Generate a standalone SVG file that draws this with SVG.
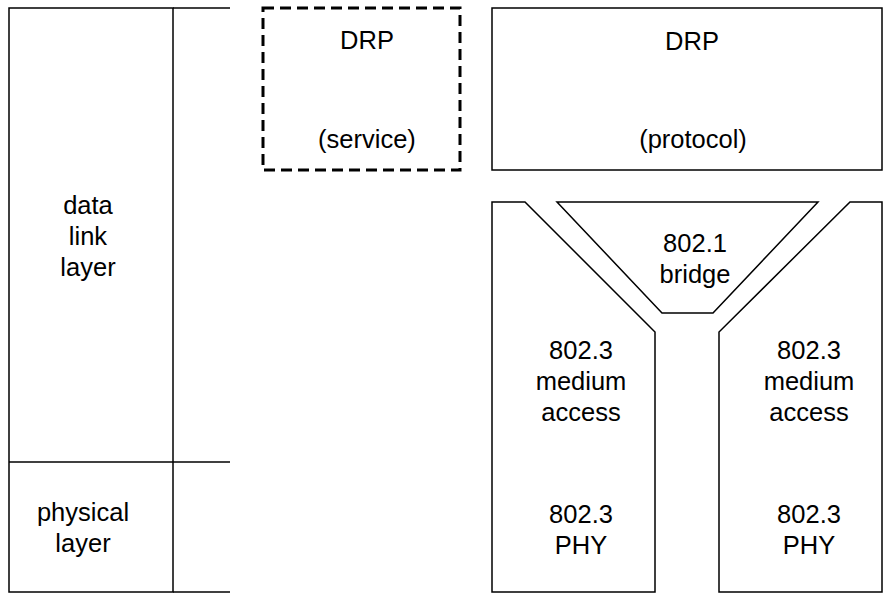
<svg xmlns="http://www.w3.org/2000/svg" width="885" height="593" viewBox="0 0 885 593">
<style>
.s{fill:#fff;stroke:#000;stroke-width:1.5}
.d{fill:none;stroke:#000;stroke-width:3;stroke-dasharray:11 6}
.ln{stroke:#000;stroke-width:1.5;fill:none}
text{font-family:"Liberation Sans",Arial,sans-serif;font-size:25.5px;text-anchor:middle;fill:#000}
</style>
<rect width="885" height="593" fill="#fff"/>
<g id="layers">
<rect class="s" x="9" y="8" width="164" height="584"/>
<line class="ln" x1="9" y1="462" x2="230" y2="462"/>
<line class="ln" x1="173" y1="8" x2="230" y2="8"/>
<line class="ln" x1="173" y1="592" x2="230" y2="592"/>
<text x="88" y="214">data</text>
<text x="88" y="245">link</text>
<text x="88" y="276">layer</text>
<text x="83" y="521">physical</text>
<text x="83" y="552">layer</text>
</g>
<g id="drp-service">
<rect class="d" x="263" y="8" width="197" height="162"/>
<text x="367" y="49">DRP</text>
<text x="367" y="148">(service)</text>
</g>
<g id="drp-protocol">
<rect class="s" x="492" y="8" width="390" height="162"/>
<text x="692" y="50">DRP</text>
<text x="693" y="148">(protocol)</text>
</g>
<g id="bridge">
<polygon class="s" points="557,202 818,202 713,313 662,313"/>
<text x="695" y="252">802.1</text>
<text x="695" y="283">bridge</text>
</g>
<g id="mac-left">
<polygon class="s" points="492,202 525,202 655,332 655,592 492,592"/>
<text x="581" y="359">802.3</text>
<text x="581" y="390">medium</text>
<text x="581" y="421">access</text>
<text x="581" y="523">802.3</text>
<text x="581" y="554">PHY</text>
</g>
<g id="mac-right">
<polygon class="s" points="850,202 882,202 882,592 719,592 719,332"/>
<text x="809" y="359">802.3</text>
<text x="809" y="390">medium</text>
<text x="809" y="421">access</text>
<text x="809" y="523">802.3</text>
<text x="809" y="554">PHY</text>
</g>
<g id="connectors"></g>
</svg>
